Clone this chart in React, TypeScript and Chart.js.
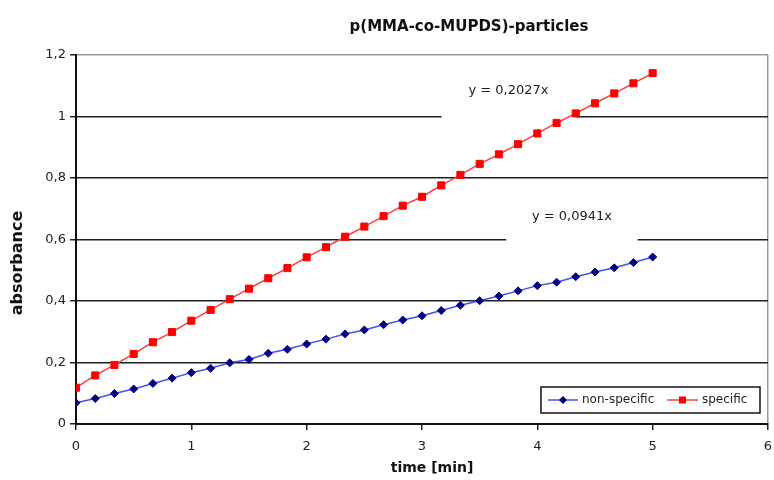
import React, { useEffect, useRef } from "react";
import { Chart, registerables } from "chart.js";

Chart.register(...registerables);

const chartTitle = "p(MMA-co-MUPDS)-particles";
const xAxisTitle = "time [min]";
const yAxisTitle = "absorbance";

const timeMin = [
  0, 0.167, 0.333, 0.5, 0.667, 0.833, 1, 1.167, 1.333, 1.5, 1.667, 1.833, 2,
  2.167, 2.333, 2.5, 2.667, 2.833, 3, 3.167, 3.333, 3.5, 3.667, 3.833, 4,
  4.167, 4.333, 4.5, 4.667, 4.833, 5,
];

const nonSpecific = [
  0.069, 0.083, 0.099, 0.114, 0.132, 0.149, 0.167, 0.181, 0.199, 0.21, 0.23,
  0.243, 0.26, 0.276, 0.293, 0.306, 0.323, 0.338, 0.352, 0.369, 0.386, 0.401,
  0.416, 0.433, 0.45, 0.461, 0.479, 0.494, 0.508, 0.525, 0.543,
];

const specific = [
  0.118, 0.158, 0.192, 0.228, 0.266, 0.299, 0.336, 0.371, 0.406, 0.44, 0.474,
  0.507, 0.542, 0.575, 0.609, 0.642, 0.676, 0.71, 0.739, 0.776, 0.81, 0.846,
  0.877, 0.91, 0.945, 0.979, 1.01, 1.043, 1.075, 1.108, 1.141,
];

const seriesNames = ["non-specific", "specific"];
const trendLabels = ["y = 0,0941x", "y = 0,2027x"];

const FONT = "'DejaVu Sans', 'Liberation Sans', Arial, sans-serif";
const BLUE_LINE = "#4a4aff";
const BLUE_MARK = "#000080";
const RED_LINE = "#ff3a3a";
const RED_MARK = "#ff0000";

const overlayPlugin = {
  id: "overlay",
  beforeDatasetsDraw(chart: any) {
    const { ctx, scales } = chart;
    const xs = scales.x;
    const ys = scales.y;
    const boxes = [
      { text: trendLabels[1], cx: 3.75, cy: 1.085, x0: 3.17, x1: 4.34, y0: 0.99, y1: 1.15 },
      { text: trendLabels[0], cx: 4.3, cy: 0.673, x0: 3.73, x1: 4.87, y0: 0.58, y1: 0.74 },
    ];
    ctx.save();
    for (const b of boxes) {
      const l = xs.getPixelForValue(b.x0);
      const r = xs.getPixelForValue(b.x1);
      const t = ys.getPixelForValue(b.y1);
      const bt = ys.getPixelForValue(b.y0);
      ctx.fillStyle = "#ffffff";
      ctx.fillRect(l, t, r - l, bt - t);
      ctx.fillStyle = "#222222";
      ctx.font = `13px ${FONT}`;
      ctx.textAlign = "center";
      ctx.textBaseline = "middle";
      ctx.fillText(b.text, xs.getPixelForValue(b.cx), ys.getPixelForValue(b.cy));
    }
    ctx.restore();
  },
  afterDraw(chart: any) {
    const { ctx, chartArea } = chart;
    ctx.save();
    ctx.fillStyle = "#111111";
    ctx.textAlign = "center";
    ctx.textBaseline = "middle";
    // title
    ctx.font = `bold 15px ${FONT}`;
    ctx.fillText(chartTitle, 469, 27);
    // x axis title
    ctx.font = `bold 14px ${FONT}`;
    ctx.fillText(xAxisTitle, 432, 468);
    // y axis title
    ctx.save();
    ctx.translate(18, 263);
    ctx.rotate(-Math.PI / 2);
    ctx.font = `bold 16px ${FONT}`;
    ctx.fillText(yAxisTitle, 0, 0);
    ctx.restore();

    // legend
    const lr = chartArea.right - 8;
    const lb = chartArea.bottom - 11;
    const lx = lr - 219;
    const ly = lb - 26;
    ctx.fillStyle = "#ffffff";
    ctx.fillRect(lx, ly, 219, 26);
    ctx.strokeStyle = "#111111";
    ctx.lineWidth = 1.5;
    ctx.strokeRect(lx, ly, 219, 26);
    const my = ly + 13;
    // blue item
    ctx.strokeStyle = BLUE_LINE;
    ctx.lineWidth = 1.5;
    ctx.beginPath();
    ctx.moveTo(lx + 7, my);
    ctx.lineTo(lx + 37, my);
    ctx.stroke();
    ctx.fillStyle = BLUE_MARK;
    ctx.beginPath();
    ctx.moveTo(lx + 22, my - 4);
    ctx.lineTo(lx + 26, my);
    ctx.lineTo(lx + 22, my + 4);
    ctx.lineTo(lx + 18, my);
    ctx.closePath();
    ctx.fill();
    ctx.fillStyle = "#222222";
    ctx.font = `12px ${FONT}`;
    ctx.textAlign = "left";
    ctx.fillText(seriesNames[0], lx + 41, my);
    // red item
    ctx.strokeStyle = RED_LINE;
    ctx.beginPath();
    ctx.moveTo(lx + 126, my);
    ctx.lineTo(lx + 157, my);
    ctx.stroke();
    ctx.fillStyle = RED_MARK;
    ctx.fillRect(lx + 138, my - 3.5, 7, 7);
    ctx.fillStyle = "#222222";
    ctx.fillText(seriesNames[1], lx + 161, my);
    ctx.restore();
  },
};

export default function App() {
  const canvasRef = useRef<HTMLCanvasElement | null>(null);

  useEffect(() => {
    if (!canvasRef.current) return;
    const chart = new Chart(canvasRef.current, {
      type: "scatter",
      data: {
        datasets: [
          {
            label: seriesNames[0],
            data: timeMin.map((t, i) => ({ x: t, y: nonSpecific[i] })),
            showLine: true,
            borderColor: BLUE_LINE,
            borderWidth: 1.5,
            pointStyle: "rectRot",
            pointRadius: 4,
            pointBackgroundColor: BLUE_MARK,
            pointBorderColor: BLUE_MARK,
            pointBorderWidth: 1,
          },
          {
            label: seriesNames[1],
            data: timeMin.map((t, i) => ({ x: t, y: specific[i] })),
            showLine: true,
            borderColor: RED_LINE,
            borderWidth: 1.5,
            pointStyle: "rect",
            pointRadius: 5,
            pointBackgroundColor: RED_MARK,
            pointBorderColor: RED_MARK,
            pointBorderWidth: 1,
          },
        ],
      },
      options: {
        animation: false,
        responsive: false,
        maintainAspectRatio: false,
        devicePixelRatio: 1,
        layout: { padding: { top: 55, right: 4, left: 0, bottom: 0 } },
        plugins: {
          legend: { display: false },
          title: { display: false },
          tooltip: { enabled: false },
        },
        scales: {
          x: {
            type: "linear",
            min: 0,
            max: 6,
            afterFit: (s: any) => {
              s.height = 56;
              s.paddingLeft = 0;
              s.paddingRight = 0;
            },
            ticks: {
              stepSize: 1,
              padding: 9,
              color: "#222222",
              font: { family: FONT, size: 13 },
            },
            grid: {
              drawOnChartArea: true,
              tickLength: 6,
              lineWidth: 1.5,
              color: (c: any) => (c.tick && c.tick.value === 6 ? "#999999" : "rgba(0,0,0,0)"),
              tickColor: "#222222",
            },
            border: { display: true, color: "#111111", width: 2 },
          },
          y: {
            type: "linear",
            min: 0,
            max: 1.2,
            afterFit: (s: any) => {
              s.width = 76;
              s.paddingTop = 0;
              s.paddingBottom = 0;
            },
            ticks: {
              stepSize: 0.2,
              padding: 4,
              color: "#222222",
              font: { family: FONT, size: 13 },
              callback: (v: any) => String(Number(Number(v).toFixed(1))).replace(".", ","),
            },
            grid: {
              tickLength: 6,
              lineWidth: 1.5,
              color: (c: any) =>
                c.tick && Math.abs(c.tick.value - 1.2) < 1e-6 ? "#999999" : "#1e1e1e",
              tickColor: "#222222",
            },
            border: { display: true, color: "#111111", width: 2 },
          },
        },
      },
      plugins: [overlayPlugin],
    });
    return () => chart.destroy();
  }, []);

  return (
    <div
      style={{
        position: "fixed",
        left: 0,
        top: 0,
        width: 774,
        height: 480,
        background: "#ffffff",
      }}
    >
      <canvas ref={canvasRef} width={774} height={480} style={{ width: 774, height: 480, display: "block" }} />
    </div>
  );
}
